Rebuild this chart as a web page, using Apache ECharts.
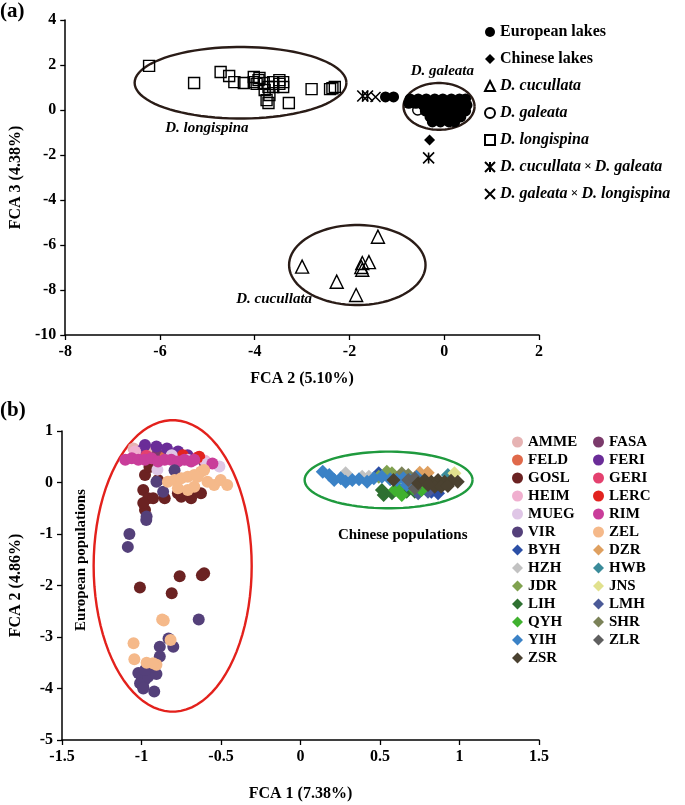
<!DOCTYPE html>
<html><head><meta charset="utf-8">
<script src="https://cdn.jsdelivr.net/npm/echarts@6/dist/echarts.min.js"></script>
<style>html,body{margin:0;padding:0;background:#fff}#c{width:685px;height:805px}</style>
</head><body><div id="c"></div>
<script>
// ---------- Panel (a) data ----------
const aXAxis = [-8, 2, 2];   // min, max, interval
const aYAxis = [-10, 4, 2];
const aEuropean = [[-1.24,0.58],[-1.07,0.58],
 [-0.72,0.49],[-0.55,0.49],[-0.38,0.49],[-0.2,0.49],[-0.03,0.49],[0.15,0.49],[0.32,0.49],[0.45,0.49],
 [-0.75,0.3],[-0.6,0.3],[-0.1,0.3],[0.05,0.3],[0.25,0.3],[0.4,0.3],
 [-0.45,0.22],[-0.28,0.22],[-0.12,0.22],[0.05,0.22],[0.22,0.22],[0.38,0.22],[0.48,0.22],
 [-0.4,-0.04],[-0.22,-0.04],[-0.05,-0.04],[0.12,-0.04],[0.28,-0.04],[0.45,-0.04],
 [-0.3,-0.31],[-0.12,-0.31],[0.05,-0.31],[0.2,-0.31],[0.35,-0.31],
 [-0.25,-0.53],[-0.08,-0.53],[0.1,-0.53],[0.22,-0.53]];
const aChinese = [[-0.31,-1.33],[0.0,0.1],[0.2,-0.2],[-0.15,0.35],[0.35,0.1]];
const aCucullata = [[-1.40,-5.63],[-3.0,-6.96],[-2.27,-7.63],[-1.86,-8.22],[-1.73,-6.8],[-1.75,-6.98],[-1.59,-6.76],[-1.73,-7.1]];
const aGaleata = [[-0.56,0.0],[0.1,0.1],[0.3,-0.2]];
const aLongispina = [[-6.23,1.96],[-5.28,1.2],[-4.72,1.69],[-4.54,1.51],[-4.43,1.24],[-4.23,1.2],[-4.02,1.24],
 [-3.96,1.16],[-3.81,1.2],[-3.71,1.02],[-3.75,0.44],[-3.69,0.67],[-3.48,1.16],[-3.40,1.02],[-3.28,0.31],
 [-2.80,0.93],[-2.41,0.93],[-2.31,1.02],[-3.92,1.33],[-3.61,1.24],[-4.02,1.47],[-3.9,1.42],[-3.61,1.02],
 [-3.48,1.33],[-3.4,1.24],[-3.79,0.89],[-3.71,0.31],[-2.36,0.97]];
const aCucGal = [[-1.72,0.62],[-1.62,0.62],[-0.33,-2.13]];
const aGalLong = [[-1.45,0.58]];
// ellipses: cx, cy, rx, ry
const aEllipses = [[-4.30,1.21,2.235,1.59],[-0.11,0.16,0.75,1.04],[-1.835,-6.89,1.44,1.78]];
const aLabels = [[-5.01,-0.8],[-0.04,1.73],[-3.59,-8.4]];
const aLabelText = ['D. longispina','D. galeata','D. cucullata'];

// ---------- Panel (b) data ----------
const bXAxis = [-1.5, 1.5, 0.5];
const bYAxis = [-5, 1, 1];
const AMME = [[-1.05,0.66],[-0.95,0.62]];
const FASA = [[-0.606,0.40],[-0.9,0.55]];
const FELD = [[-0.85,0.5]];
const FERI = [[-0.978,0.73],[-0.906,0.70],[-0.84,0.66],[-0.77,0.60],[-0.71,0.53],[-1.0,0.62]];
const GOSL = [[-0.978,0.146],[-0.989,-0.146],[-0.958,-0.307],[-0.927,-0.307],[-0.978,-0.534],[-0.75,-0.276],
 [-0.688,-0.307],[-0.854,-0.307],[-0.896,0.05],[-0.771,-0.21],[-0.989,-0.40],[-0.668,-0.146],[-0.626,-0.21],
 [-0.76,-1.82],[-0.606,-1.76],[-0.62,-1.8],[-1.01,-2.04],[-0.81,-2.15],[-0.95,0.3]];
const GERI = [[-0.97,0.52],[-0.65,0.48]];
const HEIM = [[-1.04,0.6],[-0.6,0.42]];
const LERC = [[-0.74,0.53],[-0.637,0.5]];
const MUEG = [[-0.51,0.31],[-0.585,0.37],[-0.81,0.53],[-0.71,0.44],[-0.9,0.25]];
const RIM = [[-1.102,0.44],[-1.061,0.47],[-1.02,0.44],[-0.978,0.44],[-0.937,0.47],[-0.896,0.41],[-0.854,0.44],
 [-0.813,0.44],[-0.771,0.41],[-0.73,0.44],[-0.688,0.41],[-0.668,0.44],[-0.554,0.37]];
const VIR = [[-0.906,0.016],[-0.864,-0.18],[-0.792,0.24],[-0.968,-0.66],[-0.97,-0.73],[-1.076,-1.0],[-1.086,-1.25],
 [-0.64,-2.66],[-0.83,-3.03],[-0.80,-3.19],[-0.885,-3.19],[-0.885,-3.38],[-1.02,-3.70],[-0.999,-3.77],[-0.978,-3.83],
 [-1.009,-3.90],[-0.989,-3.97],[-0.958,-3.77],[-0.906,-3.72],[-0.937,-3.58],[-0.978,-3.64],[-0.92,-4.06],[-0.989,-4.0]];
const ZEL = [[-0.834,0.016],[-0.792,0.049],[-0.75,0.082],[-0.709,0.113],[-0.668,0.146],[-0.626,0.21],[-0.606,0.243],
 [-0.771,-0.113],[-0.709,-0.146],[-0.668,-0.082],[-0.585,0.016],[-0.543,-0.049],[-0.502,0.049],[-0.461,-0.049],[-0.647,0.113],
 [-0.87,-2.66],[-0.86,-2.68],[-0.817,-3.06],[-1.05,-3.12],[-1.045,-3.43],[-0.968,-3.5],[-0.906,-3.54],[-0.927,-3.51]];
const BYH = [[0.492,0.179],[0.823,-0.179],[0.865,-0.21]];
const DZR = [[0.75,0.19],[0.80,0.19]];
const HZH = [[0.388,0.113],[0.430,0.113],[0.284,0.179]];
const HWB = [[0.927,0.146]];
const JDR = [[0.543,0.21],[0.575,0.179],[0.492,0.113]];
const JNS = [[0.968,0.179]];
const LIH = [[0.523,-0.243],[0.575,-0.21],[0.512,-0.146],[0.668,-0.179],[0.719,-0.179]];
const LMH = [[0.802,-0.179],[0.74,-0.21]];
const QYH = [[0.595,-0.146],[0.637,-0.243],[0.616,-0.113],[0.709,-0.113],[0.761,-0.146]];
const SHR = [[0.637,0.179],[0.678,0.146]];
const YIH = [[0.14,0.21],[0.181,0.146],[0.212,0.049],[0.253,0.082],[0.284,0.016],[0.326,0.049],[0.368,0.062],
 [0.419,0.016],[0.461,0.082],[0.512,0.113],[0.564,0.062],[0.606,0.049],[0.647,0.082],[0.688,0.049],[0.668,-0.049],[0.730,0.113]];
const ZLR = [[0.678,0.049],[0.719,0.082],[0.719,-0.113]];
const ZSR = [[0.740,-0.016],[0.781,0.049],[0.823,0.016],[0.865,0.049],[0.906,0.016],[0.947,0.035],[0.989,0.016],
 [0.844,-0.082],[0.885,-0.082],[0.927,-0.068],[0.802,-0.049],[0.585,0.049]];
const bEllipses = [[-0.804,-1.62,0.497,2.83],[0.554,0.049,0.528,0.55]];
const bEllipseColors = ['#e3211c','#1f9a3e'];
const bLabels = [[0.643,-1.02],[-1.382,-1.505]];
const bLabelText = ['Chinese populations','European populations'];

// drawing order (series order) and legend columns
const bOrder = ['AMME','FASA','FELD','FERI','GOSL','GERI','HEIM','LERC','MUEG','RIM','VIR','ZEL',
 'BYH','DZR','HZH','HWB','JDR','JNS','LIH','LMH','QYH','SHR','YIH','ZLR','ZSR'];
const bData = [AMME,FASA,FELD,FERI,GOSL,GERI,HEIM,LERC,MUEG,RIM,VIR,ZEL,
 BYH,DZR,HZH,HWB,JDR,JNS,LIH,LMH,QYH,SHR,YIH,ZLR,ZSR];
const bColors = ['#e6b3b3','#7b3a6b','#e0694a','#6a2c98','#6b2222','#e4416f','#f0afcf','#e2231f','#dfc6e6','#c93d9a','#54407a','#f5b98a',
 '#2b4fa6','#dfa060','#c2c2c2','#3a8b9a','#80a24f','#e1e18e','#2e7031','#4b5a98','#40b12f','#7b8258','#3b82c6','#5f5f5f','#4a4130'];
const bCol1 = ['AMME','FELD','GOSL','HEIM','MUEG','VIR','BYH','HZH','JDR','LIH','QYH','YIH','ZSR'];
const bCol2 = ['FASA','FERI','GERI','LERC','RIM','ZEL','DZR','HWB','JNS','LMH','SHR','ZLR'];
const bEuropean = ['AMME','FASA','FELD','FERI','GOSL','GERI','HEIM','LERC','MUEG','RIM','VIR','ZEL'];

// ---------- chart ----------
const FF = '"Liberation Serif", "Times New Roman", serif';
const chart = echarts.init(document.getElementById('c'));

function axis(type, range, gi, extra) {
  return Object.assign({
    type: 'value', gridIndex: gi, min: range[0], max: range[1], interval: range[2],
    splitLine: {show: false},
    axisLine: {show: true, onZero: false, lineStyle: {color: '#000', width: 1.5}},
    axisTick: {show: true, length: 5, lineStyle: {color: '#000', width: 1.3}},
    axisLabel: {color: '#000', fontFamily: FF, fontWeight: 'bold', fontSize: 16, margin: 9},
    nameLocation: 'middle',
    nameTextStyle: {color: '#000', fontFamily: FF, fontWeight: 'bold', fontSize: 16}
  }, extra);
}

function ellipseSeries(data, axisIdx, colorFn) {
  return {
    type: 'custom', xAxisIndex: axisIdx, yAxisIndex: axisIdx, silent: true, z: 1,
    data: data, encode: {x: 0, y: 1},
    renderItem: function (params, api) {
      const c = api.coord([api.value(0), api.value(1)]);
      const s = api.size([api.value(2), api.value(3)]);
      const pts = [];
      for (let k = 0; k <= 90; k++) {
        const t = k / 90 * Math.PI * 2;
        pts.push([c[0] + s[0] * Math.cos(t), c[1] + s[1] * Math.sin(t)]);
      }
      return {type: 'polyline', shape: {points: pts},
        style: {fill: null, stroke: colorFn(params.dataIndex), lineWidth: 2.4}};
    }
  };
}

function labelSeries(data, texts, axisIdx, styleFn) {
  return {
    type: 'custom', xAxisIndex: axisIdx, yAxisIndex: axisIdx, silent: true, z: 5,
    data: data, encode: {x: 0, y: 1},
    renderItem: function (params, api) {
      const c = api.coord([api.value(0), api.value(1)]);
      const st = styleFn(params.dataIndex);
      return {type: 'text', x: c[0], y: c[1], rotation: st.rotation || 0,
        style: {text: texts[params.dataIndex], fontFamily: FF, fontWeight: 'bold',
          fontStyle: st.italic ? 'italic' : 'normal', fontSize: 15, fill: '#000',
          align: 'center', verticalAlign: 'middle'}};
    }
  };
}

const openStyle = {color: 'rgba(255,255,255,0)', borderColor: '#000', borderWidth: 1.4, opacity: 1};
const aSeries = [
  {name: 'European lakes', data: aEuropean, symbol: 'circle', symbolSize: 11, itemStyle: {color: '#000', opacity: 1}},
  {name: 'Chinese lakes', data: aChinese, symbol: 'diamond', symbolSize: 11, itemStyle: {color: '#000', opacity: 1}},
  {name: 'D. cucullata', data: aCucullata, symbol: 'triangle', symbolSize: 13, itemStyle: openStyle},
  {name: 'D. galeata', data: aGaleata, symbol: 'circle', symbolSize: 10, itemStyle: openStyle},
  {name: 'D. longispina', data: aLongispina, symbol: 'rect', symbolSize: 11, itemStyle: openStyle},
  {name: 'D. cucullata × D. galeata', data: aCucGal, symbol: 'path://M0,0L10,10M10,0L0,10M5,0L5,10', symbolSize: 11,
    itemStyle: {color: 'rgba(0,0,0,0)', borderColor: '#000', borderWidth: 1.6, opacity: 1}},
  {name: 'D. galeata × D. longispina', data: aGalLong, symbol: 'path://M0,0L10,10M10,0L0,10', symbolSize: 10,
    itemStyle: {color: 'rgba(0,0,0,0)', borderColor: '#000', borderWidth: 1.6, opacity: 1}}
].map(s => Object.assign({type: 'scatter', xAxisIndex: 0, yAxisIndex: 0, z: 3}, s));

const bSeries = bOrder.map((n, i) => ({
  type: 'scatter', name: n, xAxisIndex: 1, yAxisIndex: 1, z: 3,
  data: bData[i],
  symbol: bEuropean.includes(n) ? 'circle' : 'diamond',
  symbolSize: bEuropean.includes(n) ? 12 : 14,
  itemStyle: {color: bColors[i], opacity: 1}
}));

const legendText = {color: '#000', fontFamily: FF, fontWeight: 'bold', fontSize: 16, lineHeight: 18,
  rich: {i: {fontFamily: FF, fontWeight: 'bold', fontStyle: 'italic', fontSize: 16, lineHeight: 18},
         n: {fontFamily: FF, fontWeight: 'bold', fontSize: 13, lineHeight: 18}}};
function fmtA(name) {
  if (name.indexOf('D. ') !== 0) return name;
  const parts = name.split(' × ');
  return parts.map(p => '{i|' + p + '}').join('{n| × }');
}
const bLegendText = {color: '#000', fontFamily: FF, fontWeight: 'bold', fontSize: 15, lineHeight: 16};

chart.setOption({
  animation: false,
  backgroundColor: '#fff',
  grid: [
    {left: 54, top: 20, width: 485, height: 315},
    {left: 56, top: 431, width: 483, height: 309}
  ],
  xAxis: [
    axis('x', aXAxis, 0, {name: 'FCA 2 (5.10%)', nameGap: 36}),
    axis('x', bXAxis, 1, {name: 'FCA 1 (7.38%)', nameGap: 46})
  ],
  yAxis: [
    axis('y', aYAxis, 0, {name: 'FCA 3 (4.38%)', nameGap: 36}),
    axis('y', bYAxis, 1, {name: 'FCA 2 (4.86%)', nameGap: 38})
  ],
  legend: [
    {data: aSeries.map(s => s.name), orient: 'vertical', left: 479, top: 18, itemWidth: 10, itemHeight: 10,
      itemGap: 9, selectedMode: false, formatter: fmtA, textStyle: legendText},
    {data: bCol1, orient: 'vertical', left: 507, top: 429, itemWidth: 11, itemHeight: 11,
      itemGap: 2, selectedMode: false, textStyle: bLegendText},
    {data: bCol2, orient: 'vertical', left: 588, top: 429, itemWidth: 11, itemHeight: 11,
      itemGap: 2, selectedMode: false, textStyle: bLegendText}
  ],
  graphic: [
    {type: 'text', left: 0, top: 1, style: {text: '(a)', fontFamily: FF, fontWeight: 'bold', fontSize: 21, fill: '#000'}},
    {type: 'text', left: 0, top: 400, style: {text: '(b)', fontFamily: FF, fontWeight: 'bold', fontSize: 21, fill: '#000'}}
  ],
  series: [
    ellipseSeries(aEllipses, 0, () => '#2a1c17'),
    labelSeries(aLabels, aLabelText, 0, () => ({italic: true})),
    ...aSeries,
    ellipseSeries(bEllipses, 1, i => bEllipseColors[i]),
    labelSeries(bLabels, bLabelText, 1, i => (i === 1 ? {rotation: Math.PI / 2} : {})),
    ...bSeries
  ]
});
</script>
</body></html>
